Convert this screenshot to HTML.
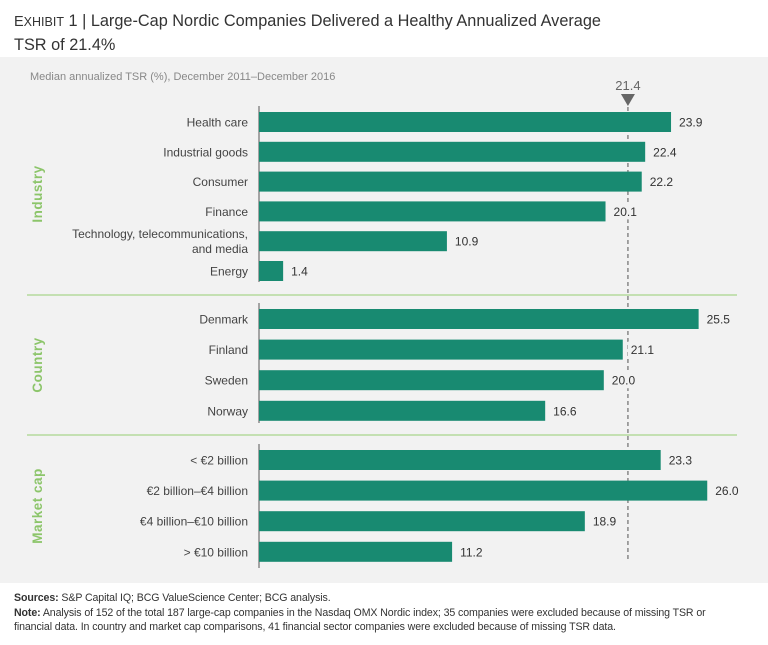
<!DOCTYPE html>
<html><head><meta charset="utf-8"><style>
body{margin:0;background:#fff;font-family:"Liberation Sans Narrow","Liberation Sans",sans-serif;}
#wrap{position:relative;width:768px;height:645px;overflow:hidden}
.title{position:absolute;left:14px;top:10px;font-size:16.3px;color:#333;line-height:23px}
.foot{position:absolute;left:14px;top:591px;font-size:10.6px;color:#333;line-height:14.5px;width:745px;letter-spacing:-0.1px}
svg{position:absolute;left:0;top:0}
</style></head><body>
<div id="wrap">
<div class="title"><span style="font-size:14.5px">E</span><span style="font-size:12.5px">XHIBIT</span> 1 | Large-Cap Nordic Companies Delivered a Healthy Annualized Average<br>TSR of 21.4%</div>
<svg id="chart" width="768" height="645"></svg>
<div class="foot"><b>Sources:</b> S&amp;P Capital IQ; BCG ValueScience Center; BCG analysis.<br><b>Note:</b> Analysis of 152 of the total 187 large-cap companies in the Nasdaq OMX Nordic index; 35 companies were excluded because of missing TSR or<br>financial data. In country and market cap comparisons, 41 financial sector companies were excluded because of missing TSR data.</div>
</div>
<script>
const industryLabels=["Health care","Industrial goods","Consumer","Finance","Technology, telecommunications,|and media","Energy"];
const industryValues=[23.9,22.4,22.2,20.1,10.9,1.4];
const countryLabels=["Denmark","Finland","Sweden","Norway"];
const countryValues=[25.5,21.1,20.0,16.6];
const capLabels=["< €2 billion","€2 billion–€4 billion","€4 billion–€10 billion","> €10 billion"];
const capValues=[23.3,26.0,18.9,11.2];
const groupNames=["Industry","Country","Market cap"];
const average=21.4;

const NS="http://www.w3.org/2000/svg";
const svg=document.getElementById('chart');
function mk(t,a,p){const e=document.createElementNS(NS,t);for(const k in a)e.setAttribute(k,a[k]);(p||svg).appendChild(e);return e;}
const x0=259, k=17.24;
const xs=v=>x0+v*k;
const bg=mk('rect',{x:0,y:57,width:768,height:526,fill:'#f2f2f2'});


const sub=mk('text',{x:30,y:80,'font-size':11,fill:'#888'});sub.textContent="Median annualized TSR (%), December 2011–December 2016";


const groups=[
 {labels:industryLabels,values:industryValues,y0:122,top:106,bot:282,gy:194},
 {labels:countryLabels,values:countryValues,y0:319,top:303,bot:423,gy:365},
 {labels:capLabels,values:capValues,y0:460,top:444,bot:568,gy:506}];
const step=[29.8,30.6,30.6];
[295,435].forEach((y,i)=>{const l=mk('line',{x1:27,x2:737,y1:y,y2:y,stroke:'#a8d58c','stroke-width':1.3});

});
const dash=mk('line',{x1:xs(average),x2:xs(average),y1:107,y2:562,stroke:'#777','stroke-width':1.3,'stroke-dasharray':'4,3'});


const tri=mk('path',{d:`M${xs(average)-7},94 L${xs(average)+7},94 L${xs(average)},106 Z`,fill:'#666'});


const at=mk('text',{x:xs(average),y:90,'font-size':13,fill:'#666','text-anchor':'middle'});at.textContent=average.toFixed(1);


groups.forEach((g,gi)=>{
 const ax=mk('line',{x1:x0,x2:x0,y1:g.top,y2:g.bot,stroke:'#555','stroke-width':1});
 
 
 const gt=mk('text',{x:0,y:0,'font-size':13.5,'font-weight':'bold',fill:'#8cc56a','text-anchor':'middle',transform:`translate(42,${g.gy}) rotate(-90)`,'font-family':'Liberation Sans,sans-serif','letter-spacing':'0.5'});
 gt.textContent=groupNames[gi];
 
 
 g.values.forEach((v,i)=>{
  const cy=g.y0+i*step[gi];
  const r=mk('rect',{x:x0,y:cy-10,width:xs(v)-x0,height:20,fill:'#188a71'});
  
  
  const vb=mk('rect',{x:xs(v)+5,y:cy-8,width:30,height:16,fill:'#f2f2f2'});
  
  
  const vt=mk('text',{x:xs(v)+8,y:cy+4.5,'font-size':12,fill:'#333'});vt.textContent=v.toFixed(1);
  
  
  const parts=g.labels[i].split('|');
  const lt=mk('text',{x:248,y:parts.length>1?cy-3:cy+4.5,'font-size':12,fill:'#444','text-anchor':'end'});
  
  
  parts.forEach((p,j)=>{const ts=mk('tspan',{x:248,dy:j?15:0},lt);ts.textContent=p;});
 });
});
</script>
</body></html>
